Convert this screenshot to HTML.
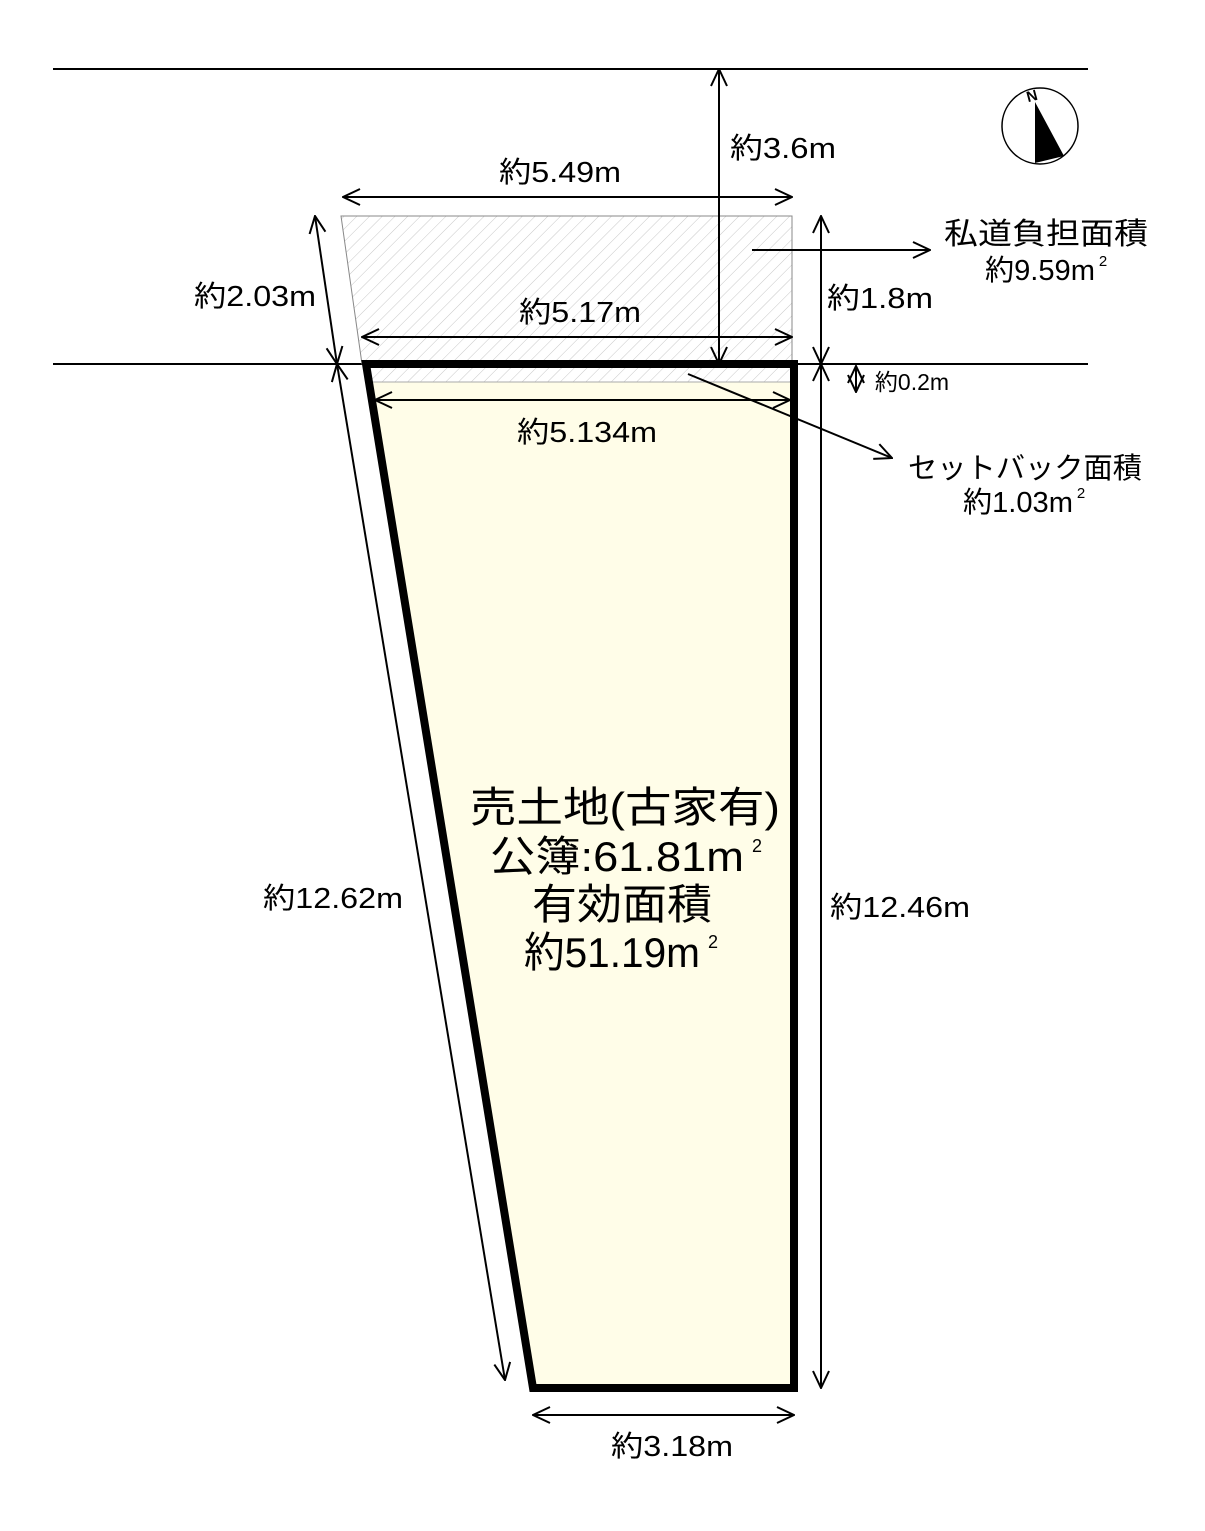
<!DOCTYPE html>
<html><head><meta charset="utf-8"><style>
html,body{margin:0;padding:0;background:#fff}
svg{display:block}
text{font-family:"Liberation Sans","Noto Sans CJK JP",sans-serif;fill:#000}
</style></head><body>
<svg width="1205" height="1531" viewBox="0 0 1205 1531" xmlns="http://www.w3.org/2000/svg">
<defs>
<pattern id="h" width="9" height="9" patternUnits="userSpaceOnUse" patternTransform="rotate(45)">
<rect width="9" height="9" fill="#fff"/>
<line x1="0" y1="0" x2="0" y2="9" stroke="#c8c8c8" stroke-width="1"/>
</pattern>
<marker id="a" viewBox="0 0 20 20" refX="19" refY="10" markerWidth="20" markerHeight="20" markerUnits="userSpaceOnUse" orient="auto-start-reverse">
<path d="M2,2 L19,10 L2,18" fill="none" stroke="#000" stroke-width="2"/>
</marker>
</defs>
<line x1="53" y1="69" x2="1088" y2="69" stroke="#000" stroke-width="2"/>
<line x1="53" y1="364" x2="1088" y2="364" stroke="#000" stroke-width="2"/>
<polygon points="341,216 792,216 792,364 362,364" fill="url(#h)" stroke="#888" stroke-width="1"/>
<polygon points="366,364 794,364 794,1388 533,1388" fill="#fffde8"/>
<polygon points="368,366 792,366 792,382 371,382" fill="url(#h)"/>
<line x1="371" y1="382" x2="792" y2="382" stroke="#aaa" stroke-width="1"/>
<polygon points="366,364 794,364 794,1388 533,1388" fill="none" stroke="#000" stroke-width="8" stroke-linejoin="miter"/>
<g stroke="#000" stroke-width="2" fill="none">
<line x1="343" y1="197" x2="792" y2="197" marker-start="url(#a)" marker-end="url(#a)"/>
<line x1="362" y1="337" x2="792" y2="337" marker-start="url(#a)" marker-end="url(#a)"/>
<line x1="375" y1="400" x2="790" y2="400" marker-start="url(#a)" marker-end="url(#a)"/>
<line x1="719" y1="69" x2="719" y2="364" marker-start="url(#a)" marker-end="url(#a)"/>
<line x1="821" y1="216" x2="821" y2="364" marker-start="url(#a)" marker-end="url(#a)"/>
<line x1="821" y1="364" x2="821" y2="1388" marker-start="url(#a)" marker-end="url(#a)"/>
<line x1="856" y1="366" x2="856" y2="392" marker-start="url(#a)" marker-end="url(#a)"/>
<line x1="315" y1="216" x2="337" y2="364" marker-start="url(#a)" marker-end="url(#a)"/>
<line x1="337" y1="364" x2="505" y2="1380" marker-start="url(#a)" marker-end="url(#a)"/>
<line x1="533" y1="1415" x2="794" y2="1415" marker-start="url(#a)" marker-end="url(#a)"/>
<line x1="752" y1="250" x2="930" y2="250" marker-end="url(#a)"/>
<line x1="688" y1="374" x2="892" y2="458" marker-end="url(#a)"/>
</g>
<circle cx="1040" cy="126" r="38" fill="#fff" stroke="#000" stroke-width="1.5"/>
<polygon points="1035,102 1035,163 1064,156" fill="#000"/>
<text x="1032" y="101" font-size="15" font-family="Liberation Serif" font-weight="bold" text-anchor="middle" transform="rotate(-15 1032 96)">N</text>
<g font-size="29" text-anchor="middle">
<text x="560" y="182" textLength="122" lengthAdjust="spacingAndGlyphs">約5.49m</text>
<text x="580" y="322" textLength="122" lengthAdjust="spacingAndGlyphs">約5.17m</text>
<text x="587" y="442" textLength="140" lengthAdjust="spacingAndGlyphs">約5.134m</text>
<text x="783" y="158" textLength="106" lengthAdjust="spacingAndGlyphs">約3.6m</text>
<text x="880" y="308" textLength="106" lengthAdjust="spacingAndGlyphs">約1.8m</text>
<text x="900" y="917" textLength="140" lengthAdjust="spacingAndGlyphs">約12.46m</text>
<text x="255" y="306" textLength="122" lengthAdjust="spacingAndGlyphs">約2.03m</text>
<text x="333" y="908" textLength="140" lengthAdjust="spacingAndGlyphs">約12.62m</text>
<text x="672" y="1456" textLength="122" lengthAdjust="spacingAndGlyphs">約3.18m</text>
<text x="1046" y="244" font-size="30" textLength="204" lengthAdjust="spacingAndGlyphs">私道負担面積</text>
<text x="1040" y="280" textLength="110" lengthAdjust="spacingAndGlyphs">約9.59m</text>
<text x="1103" y="266" font-size="15">2</text>
<text x="1018" y="512" textLength="110" lengthAdjust="spacingAndGlyphs">約1.03m</text>
<text x="1081" y="498" font-size="15">2</text>
<text x="1025" y="478" textLength="234" lengthAdjust="spacingAndGlyphs">セットバック面積</text>
</g>
<text x="912" y="390" font-size="23" text-anchor="middle">約0.2m</text>
<g font-size="42" text-anchor="middle">
<text x="625" y="822" textLength="310" lengthAdjust="spacingAndGlyphs">売土地(古家有)</text>
<text x="617" y="871" textLength="254" lengthAdjust="spacingAndGlyphs">公簿:61.81m</text>
<text x="622" y="919" textLength="180" lengthAdjust="spacingAndGlyphs">有効面積</text>
<text x="612" y="967" textLength="176" lengthAdjust="spacingAndGlyphs">約51.19m</text>
</g>
<text x="752" y="852" font-size="18">2</text>
<text x="708" y="948" font-size="18">2</text>
</svg>
</body></html>
